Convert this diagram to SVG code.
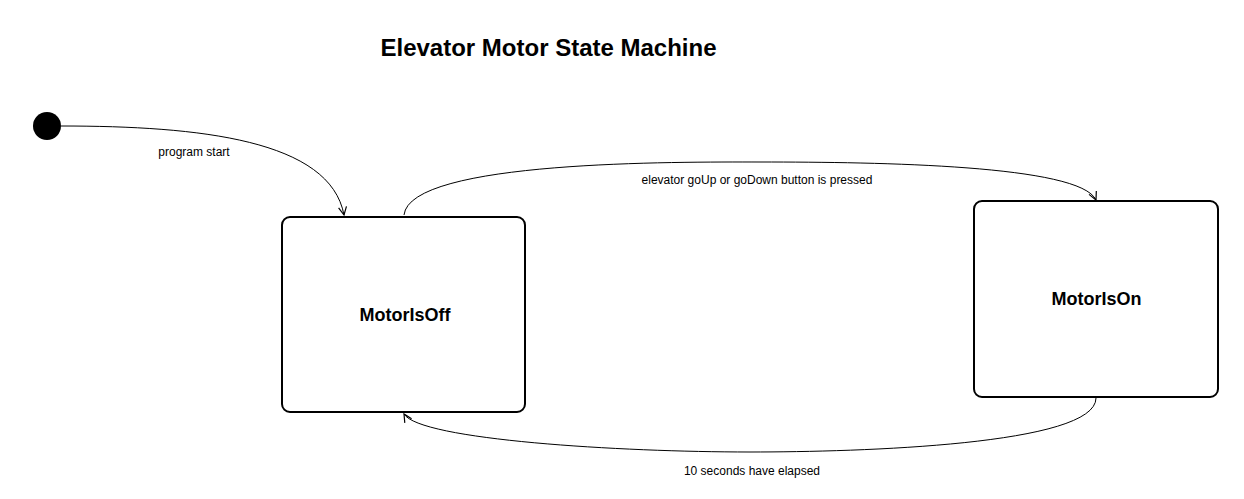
<svg xmlns="http://www.w3.org/2000/svg" width="1244" height="499" viewBox="0 0 1244 499">
<style>
.state{fill:#fff;stroke:#000;stroke-width:2}
.lbl{font-family:"Liberation Sans",Arial,sans-serif;font-size:12px;fill:#000;text-anchor:middle}
.name{font-family:"Liberation Sans",Arial,sans-serif;font-size:18px;font-weight:bold;fill:#000;text-anchor:middle}
.edge{fill:none;stroke:#000;stroke-width:1;marker-end:url(#arr)}
</style>
<defs>
<marker id="arr" viewBox="0 0 10 10" refX="9" refY="5" markerWidth="10" markerHeight="10" markerUnits="userSpaceOnUse" orient="auto">
<path d="M1,1 L9,5 L1,9" fill="none" stroke="#000" stroke-width="1.2"/>
</marker>
</defs>
<rect width="1244" height="499" fill="#fff"/>
<text x="548.5" y="56" font-family="Liberation Sans,Arial,sans-serif" font-size="24" font-weight="bold" text-anchor="middle">Elevator Motor State Machine</text>
<g id="initial"><circle cx="47" cy="126" r="14" fill="#000"/></g>
<g id="MotorIsOff"><rect class="state" x="282" y="217" width="243" height="195" rx="8"/><text class="name" x="405" y="321">MotorIsOff</text></g>
<g id="MotorIsOn"><rect class="state" x="974" y="201" width="244" height="196" rx="8"/><text class="name" x="1096.5" y="305">MotorIsOn</text></g>
<g id="connectors">
<path class="edge" d="M61,126 C200,126 330,140 344,215"/>
<text class="lbl" x="194" y="156">program start</text>
<path class="edge" d="M404,215 C410,160 680,162 760,162 C880,162 1080,165 1096,200"/>
<text class="lbl" x="757" y="184">elevator goUp or goDown button is pressed</text>
<path class="edge" d="M1096,398 C1096,445 860,452 750,452 C620,452 420,440 404,414"/>
<text class="lbl" x="752" y="475">10 seconds have elapsed</text>
</g>
</svg>
